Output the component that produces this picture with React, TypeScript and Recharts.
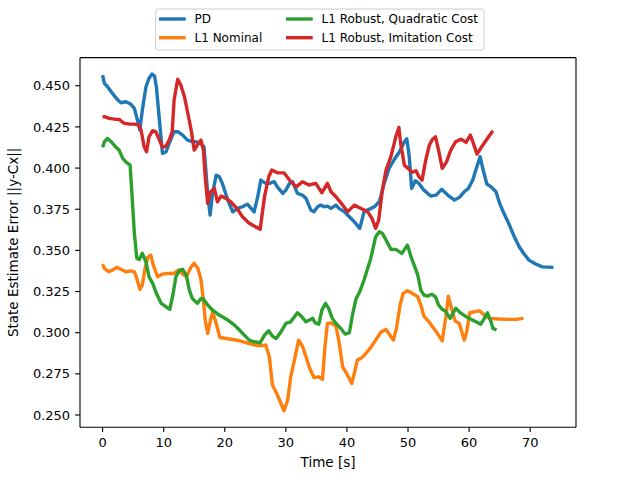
import { LineChart, Line, XAxis, YAxis, ReferenceLine } from 'recharts';

// PD
const PD_T = [0, 0.3, 0.8, 1.6, 2.5, 3.0, 3.8, 4.6, 5.2, 5.7, 6.1, 6.5, 7.1, 7.6, 8.1, 8.5, 8.8, 9.3, 9.8, 10.4, 10.9, 11.7, 12.3, 13.1, 13.9, 14.7, 15.3, 16.0, 16.6, 17.2, 17.6, 18.0, 18.6, 19.1, 19.6, 20.5, 21.3, 22.1, 22.9, 23.7, 24.8, 25.4, 25.9, 26.7, 27.3, 28.1, 28.6, 29.5, 30.0, 30.6, 31.1, 31.9, 32.7, 33.3, 34.1, 34.6, 35.2, 35.7, 36.3, 36.8, 37.4, 38.2, 38.7, 39.6, 40.4, 41.2, 42.1, 42.8, 43.6, 44.5, 45.3, 46.1, 46.9, 47.7, 48.6, 49.4, 49.8, 50.2, 50.6, 51.2, 51.8, 52.6, 53.7, 54.6, 55.5, 56.5, 57.6, 58.4, 59.2, 59.9, 60.6, 61.1, 61.8, 62.3, 62.9, 63.6, 64.4, 65.0, 65.7, 66.6, 67.4, 68.2, 69.0, 69.8, 70.9, 72.0, 73.8];
const PD_V = [0.4565, 0.4515, 0.4494, 0.4454, 0.4413, 0.4397, 0.4403, 0.4389, 0.4363, 0.4292, 0.4231, 0.4352, 0.4494, 0.4545, 0.4571, 0.4559, 0.4494, 0.4292, 0.4089, 0.4099, 0.4150, 0.4221, 0.4221, 0.4200, 0.4170, 0.4160, 0.4160, 0.4150, 0.4129, 0.3846, 0.3714, 0.3846, 0.3957, 0.3947, 0.3907, 0.3806, 0.3734, 0.3755, 0.3765, 0.3781, 0.3734, 0.3826, 0.3927, 0.3907, 0.3907, 0.3917, 0.3886, 0.3846, 0.3866, 0.3907, 0.3917, 0.3846, 0.3836, 0.3816, 0.3745, 0.3734, 0.3765, 0.3775, 0.3765, 0.3769, 0.3755, 0.3775, 0.3755, 0.3734, 0.3704, 0.3674, 0.3634, 0.3734, 0.3749, 0.3765, 0.3795, 0.3907, 0.3998, 0.4049, 0.4099, 0.4160, 0.4178, 0.4069, 0.3877, 0.3923, 0.3907, 0.3866, 0.3830, 0.3836, 0.3871, 0.3836, 0.3806, 0.3822, 0.3856, 0.3877, 0.3927, 0.3988, 0.4069, 0.3988, 0.3903, 0.3886, 0.3856, 0.3786, 0.3725, 0.3654, 0.3583, 0.3522, 0.3478, 0.3441, 0.3417, 0.3400, 0.3397];

// L1 Nominal
const NOM_T = [0, 0.3, 1.0, 1.6, 2.3, 3.0, 3.8, 4.6, 5.2, 5.6, 6.1, 6.5, 7.0, 7.4, 7.9, 8.3, 9.0, 9.8, 10.6, 11.7, 12.4, 13.0, 13.7, 14.5, 15.0, 15.6, 16.1, 16.5, 16.8, 17.2, 17.6, 18.0, 18.6, 19.2, 20.2, 21.3, 22.4, 23.5, 24.5, 25.6, 26.7, 27.3, 27.8, 28.5, 29.2, 29.7, 30.3, 30.8, 31.4, 32.1, 32.7, 33.3, 33.9, 34.6, 35.4, 36.0, 36.4, 36.8, 37.4, 38.2, 38.7, 39.3, 40.1, 40.8, 41.2, 41.7, 42.3, 43.1, 43.9, 44.7, 45.6, 46.4, 46.9, 47.6, 48.1, 48.7, 49.2, 49.9, 50.7, 51.6, 52.1, 52.6, 53.3, 54.0, 54.8, 55.6, 56.2, 56.6, 57.2, 57.7, 58.4, 59.2, 59.6, 60.1, 60.8, 61.7, 62.5, 63.3, 64.9, 66.6, 67.7, 68.9];
const NOM_V = [0.3417, 0.3391, 0.3370, 0.3380, 0.3397, 0.3385, 0.3370, 0.3376, 0.3370, 0.3330, 0.3263, 0.3289, 0.3400, 0.3457, 0.3471, 0.3411, 0.3340, 0.3356, 0.3360, 0.3360, 0.3380, 0.3360, 0.3340, 0.3400, 0.3421, 0.3391, 0.3324, 0.3198, 0.3077, 0.2996, 0.3066, 0.3127, 0.3056, 0.2971, 0.2965, 0.2959, 0.2951, 0.2939, 0.2929, 0.2920, 0.2925, 0.2854, 0.2682, 0.2631, 0.2570, 0.2526, 0.2591, 0.2732, 0.2834, 0.2955, 0.2919, 0.2854, 0.2783, 0.2728, 0.2732, 0.2716, 0.2914, 0.3056, 0.3060, 0.3040, 0.2945, 0.2793, 0.2742, 0.2692, 0.2753, 0.2834, 0.2844, 0.2874, 0.2911, 0.2955, 0.3005, 0.3020, 0.2992, 0.2955, 0.3026, 0.3168, 0.3239, 0.3255, 0.3239, 0.3218, 0.3168, 0.3101, 0.3072, 0.3036, 0.2996, 0.2951, 0.3097, 0.3222, 0.3137, 0.3072, 0.3056, 0.2955, 0.3005, 0.3121, 0.3127, 0.3133, 0.3107, 0.3087, 0.3083, 0.3081, 0.3081, 0.3087];

// L1 Robust, Quadratic Cost
const QUAD_T = [0, 0.3, 0.8, 1.4, 2.2, 2.7, 3.3, 3.8, 4.5, 4.8, 5.2, 5.6, 6.0, 6.5, 7.1, 7.6, 8.2, 8.8, 9.6, 10.4, 11.0, 11.5, 12.0, 12.6, 13.1, 13.7, 14.2, 14.7, 15.5, 16.1, 16.5, 17.2, 18.0, 19.1, 20.5, 21.6, 22.4, 23.2, 24.0, 24.8, 25.8, 26.5, 27.2, 27.8, 28.4, 29.2, 30.0, 30.8, 31.4, 31.9, 32.5, 33.3, 33.8, 34.4, 34.8, 35.4, 35.9, 36.5, 37.0, 37.6, 38.2, 39.0, 39.7, 40.4, 40.9, 41.5, 42.1, 42.8, 43.4, 43.9, 44.7, 45.3, 45.8, 46.4, 47.2, 48.0, 49.0, 49.9, 50.5, 51.0, 51.6, 52.1, 52.6, 53.2, 53.9, 54.5, 55.0, 55.6, 56.1, 56.9, 57.8, 58.7, 59.7, 60.8, 61.9, 62.5, 63.0, 63.6, 63.9, 64.5];
const QUAD_V = [0.4126, 0.4160, 0.4180, 0.4160, 0.4126, 0.4109, 0.4059, 0.4038, 0.4018, 0.3846, 0.3603, 0.3451, 0.3445, 0.3482, 0.3431, 0.3340, 0.3300, 0.3239, 0.3178, 0.3157, 0.3142, 0.3228, 0.3340, 0.3380, 0.3385, 0.3350, 0.3259, 0.3208, 0.3178, 0.3208, 0.3204, 0.3168, 0.3137, 0.3107, 0.3077, 0.3046, 0.3016, 0.2985, 0.2955, 0.2945, 0.2939, 0.2985, 0.3012, 0.2979, 0.2965, 0.3005, 0.3056, 0.3066, 0.3097, 0.3121, 0.3101, 0.3066, 0.3076, 0.3087, 0.3060, 0.3052, 0.3137, 0.3178, 0.3148, 0.3087, 0.3056, 0.3026, 0.2992, 0.3000, 0.3107, 0.3208, 0.3249, 0.3320, 0.3391, 0.3451, 0.3583, 0.3613, 0.3603, 0.3563, 0.3506, 0.3506, 0.3482, 0.3532, 0.3461, 0.3411, 0.3350, 0.3259, 0.3228, 0.3222, 0.3234, 0.3218, 0.3168, 0.3142, 0.3131, 0.3087, 0.3148, 0.3117, 0.3093, 0.3072, 0.3052, 0.3087, 0.3121, 0.3066, 0.3026, 0.3016];

// L1 Robust, Imitation Cost
const IMIT_T = [0, 0.3, 1.1, 2.2, 2.7, 3.5, 4.4, 5.2, 5.9, 6.3, 6.8, 7.2, 7.6, 8.2, 8.7, 9.3, 9.8, 10.4, 10.9, 11.4, 11.7, 12.3, 12.8, 13.4, 13.9, 14.5, 15.0, 15.5, 16.1, 16.5, 16.8, 17.2, 17.7, 18.3, 18.8, 19.4, 20.2, 21.0, 22.1, 22.9, 23.9, 24.5, 25.8, 26.5, 27.2, 27.7, 28.6, 29.7, 30.6, 31.7, 32.7, 33.8, 34.9, 35.9, 36.8, 37.4, 38.2, 39.3, 40.1, 41.2, 42.3, 43.4, 44.1, 44.7, 45.2, 45.8, 46.4, 47.2, 48.0, 48.5, 48.8, 49.4, 50.2, 50.7, 51.3, 51.8, 52.3, 52.9, 53.5, 54.0, 54.5, 55.0, 55.6, 56.3, 57.0, 57.8, 58.7, 59.5, 60.2, 60.7, 61.3, 61.9, 62.7, 63.9];
const IMIT_V = [0.4312, 0.4312, 0.4302, 0.4296, 0.4296, 0.4272, 0.4267, 0.4267, 0.4261, 0.4231, 0.4129, 0.4099, 0.4190, 0.4227, 0.4221, 0.4170, 0.4126, 0.4134, 0.4170, 0.4221, 0.4413, 0.4539, 0.4504, 0.4433, 0.4342, 0.4231, 0.4109, 0.4140, 0.4170, 0.4109, 0.3947, 0.3786, 0.3856, 0.3877, 0.3795, 0.3830, 0.3816, 0.3795, 0.3749, 0.3704, 0.3668, 0.3654, 0.3628, 0.3826, 0.3947, 0.3988, 0.3971, 0.3971, 0.3927, 0.3886, 0.3917, 0.3897, 0.3907, 0.3850, 0.3907, 0.3856, 0.3826, 0.3775, 0.3734, 0.3775, 0.3755, 0.3734, 0.3694, 0.3634, 0.3684, 0.3866, 0.3988, 0.4069, 0.4190, 0.4247, 0.4150, 0.4018, 0.3992, 0.3975, 0.3984, 0.3947, 0.3927, 0.4049, 0.4140, 0.4174, 0.4190, 0.4109, 0.3998, 0.4038, 0.4109, 0.4160, 0.4176, 0.4156, 0.4200, 0.4150, 0.4085, 0.4120, 0.4164, 0.4227];

const X_TICKS = [0, 10, 20, 30, 40, 50, 60, 70];
const Y_TICKS = [0.25, 0.275, 0.3, 0.325, 0.35, 0.375, 0.4, 0.425, 0.45];
const X_DOMAIN = [-3.7, 77.5];
const Y_DOMAIN = [0.2426, 0.4671];

const FONT = 'DejaVu Sans';

const SERIES = [
  { name: 'PD', t: PD_T, v: PD_V, color: '#1f77b4' },
  { name: 'L1 Nominal', t: NOM_T, v: NOM_V, color: '#ff7f0e' },
  { name: 'L1 Robust, Quadratic Cost', t: QUAD_T, v: QUAD_V, color: '#2ca02c' },
  { name: 'L1 Robust, Imitation Cost', t: IMIT_T, v: IMIT_V, color: '#d62728' },
];

const toRows = (t: number[], v: number[]) => t.map((x, i) => ({ t: x, v: v[i] }));

const YLabel = () => (
  <text
    x={18}
    y={242.4}
    transform="rotate(-90, 18, 242.4)"
    textAnchor="middle"
    fontSize={13.5}
    fontFamily={FONT}
    fill="#000"
  >
    State Estimate Error ||y-Cx||
  </text>
);

function LegendBox() {
  // two columns, two rows, like matplotlib's ncol=2
  const cols = [159, 286];
  const rows = [19, 37.7];
  return (
    <svg width={640} height={60} style={{ position: 'absolute', left: 0, top: 0 }}>
      <rect x={155.7} y={9} width={328.3} height={41} rx={2.5} fill="#fff" fillOpacity={0.8} stroke="#cccccc" strokeWidth={1} />
      {SERIES.map((s, i) => {
        const c = i < 2 ? 0 : 1;
        const r = i % 2;
        const x = cols[c];
        const y = rows[r];
        return (
          <g key={s.name}>
            <line x1={x} x2={x + 26.7} y1={y} y2={y} stroke={s.color} strokeWidth={3.4} />
            <text x={x + 35.5} y={y + 4.3} fontSize={12} fontFamily={FONT} fill="#000">{s.name}</text>
          </g>
        );
      })}
    </svg>
  );
}

export default function App() {
  return (
    <div style={{ position: 'absolute', left: 0, top: 0, width: 640, height: 480, background: '#fff' }}>
      <LineChart width={640} height={480} margin={{ top: 57.6, right: 64, bottom: 0, left: 0 }}>
        <XAxis
          type="number"
          dataKey="t"
          domain={X_DOMAIN}
          allowDataOverflow
          ticks={X_TICKS}
          height={52.8}
          tickSize={4.9}
          tickMargin={6}
          tick={{ fill: '#000', fontSize: 13, fontFamily: FONT }}
          tickLine={{ stroke: '#000', strokeWidth: 1.1 }}
          axisLine={{ stroke: '#000', strokeWidth: 1.1 }}
          label={{ value: 'Time [s]', position: 'insideBottom', offset: 13, fill: '#000', fontSize: 13.5, fontFamily: FONT }}
        />
        <YAxis
          type="number"
          domain={Y_DOMAIN}
          allowDataOverflow
          ticks={Y_TICKS}
          width={80}
          tickSize={4.9}
          tickMargin={5}
          tickFormatter={(v: number) => v.toFixed(3)}
          tick={{ fill: '#000', fontSize: 13, fontFamily: FONT }}
          tickLine={{ stroke: '#000', strokeWidth: 1.1 }}
          axisLine={{ stroke: '#000', strokeWidth: 1.1 }}
          label={<YLabel />}
        />
        <ReferenceLine y={Y_DOMAIN[1]} stroke="#000" strokeWidth={1.1} />
        <ReferenceLine x={X_DOMAIN[1]} stroke="#000" strokeWidth={1.1} />
        {SERIES.map(s => (
          <Line
            key={s.name}
            data={toRows(s.t, s.v)}
            dataKey="v"
            name={s.name}
            type="linear"
            stroke={s.color}
            strokeWidth={3.4}
            strokeLinejoin="round"
            dot={false}
            activeDot={false}
            isAnimationActive={false}
          />
        ))}
      </LineChart>
      <LegendBox />
    </div>
  );
}
